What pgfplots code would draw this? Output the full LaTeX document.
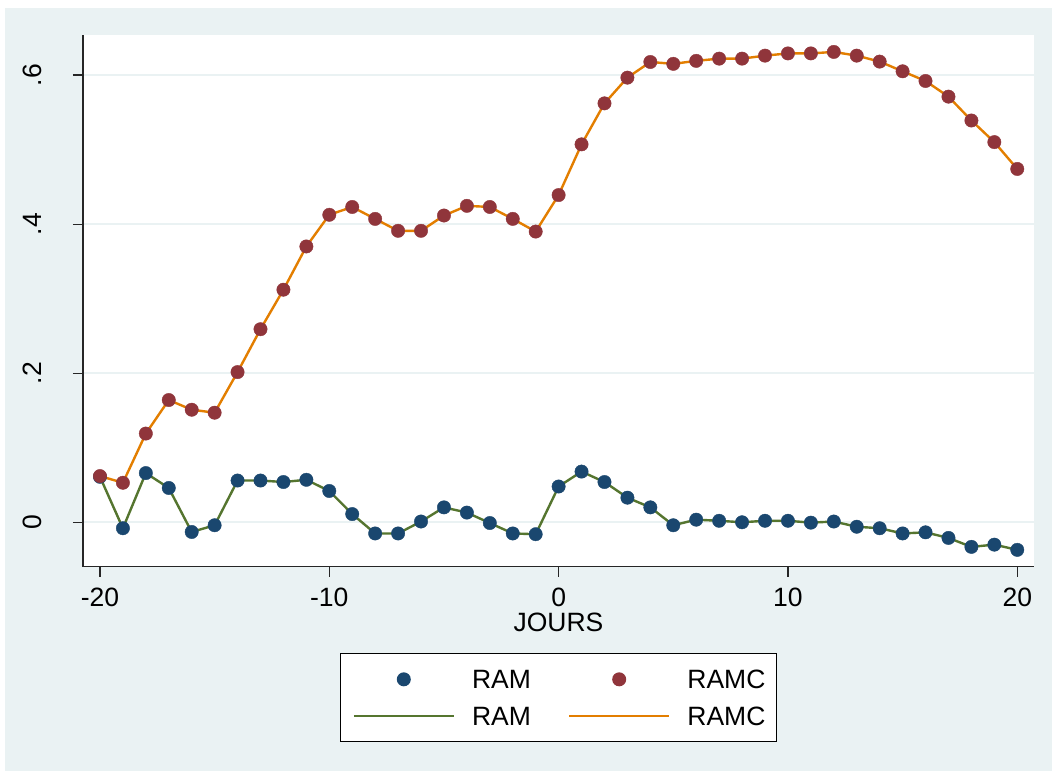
\documentclass[border=0pt]{standalone}
\usepackage{pgfplots}
\pgfplotsset{compat=1.18}
\usepackage{pgfplotstable}
\usepackage{fontspec}
\setmainfont{Liberation Sans}
\definecolor{bgc}{RGB}{234,242,243}
\definecolor{snavy}{RGB}{26,71,111}
\definecolor{smaroon}{RGB}{144,53,59}
\definecolor{sgreen}{RGB}{85,117,47}
\definecolor{sorange}{RGB}{227,126,0}

\pgfplotstableread{
x ram ramc
-20 0.061 0.062
-19 -0.008 0.053
-18 0.066 0.119
-17 0.046 0.164
-16 -0.013 0.151
-15 -0.004 0.147
-14 0.056 0.2015
-13 0.056 0.259
-12 0.054 0.312
-11 0.057 0.370
-10 0.042 0.4125
-9 0.011 0.423
-8 -0.015 0.407
-7 -0.015 0.391
-6 0.001 0.391
-5 0.020 0.4115
-4 0.013 0.4245
-3 -0.001 0.423
-2 -0.015 0.407
-1 -0.016 0.390
0 0.048 0.439
1 0.068 0.507
2 0.054 0.562
3 0.033 0.5965
4 0.020 0.6175
5 -0.004 0.615
6 0.0035 0.619
7 0.002 0.622
8 0.000 0.622
9 0.002 0.626
10 0.002 0.629
11 -0.0005 0.629
12 0.001 0.631
13 -0.006 0.626
14 -0.008 0.618
15 -0.015 0.605
16 -0.0135 0.592
17 -0.021 0.571
18 -0.033 0.539
19 -0.030 0.510
20 -0.037 0.474
}\datatable

\begin{document}
\begin{tikzpicture}[font=\fontsize{26.5bp}{31bp}\selectfont]
\useasboundingbox (-83bp,-204.3bp) rectangle (969bp,566.7bp);
\fill[white] (-83bp,-204.3bp) rectangle (969bp,566.7bp);
\fill[bgc] (-78bp,-204.3bp) rectangle (969bp,558.7bp);
\fill[white] (0bp,0bp) rectangle (951bp,531.7bp);
\begin{axis}[
  at={(0bp,0bp)}, anchor=south west,
  scale only axis,
  width=951bp, height=531.7bp,
  xmin=-20.74, xmax=20.73,
  ymin=-0.0596, ymax=0.6537,
  axis lines*=left,
  axis line style={black!85, line width=1.2bp},
  tick align=outside,
  major tick length=10bp,
  tick style={black!85, line width=1.2bp},
  xtick={-20,-10,0,10,20},
  xticklabels={-20,-10,0,10,20},
  ytick={0,0.2,0.4,0.6},
  yticklabels={0,.2,.4,.6},
  xticklabel style={anchor=north, inner sep=0pt},
  xticklabel shift=11bp,
  yticklabel style={rotate=90, anchor=south, inner sep=0pt},
  yticklabel shift=31bp,
  ymajorgrids,
  grid style={bgc, line width=2bp},
  xlabel={JOURS},
  xlabel style={at={(axis description cs:0.5,-0.087)}, anchor=north, inner sep=0pt},
  legend columns=2,
  legend style={
    at={(axis description cs:0.5,-0.1629)}, anchor=north,
    draw=black, line width=1bp, fill=white,
    inner xsep=12bp, inner ysep=16bp,
    row sep=17.7bp,
    cells={anchor=west},
    nodes={inner sep=0pt, text height=19bp, text depth=0bp},
    /tikz/every odd column/.append style={column sep=17bp},
    /tikz/every even column/.append style={column sep=19bp},
  },
]
\addplot[only marks, mark=*, mark size=6.7bp, snavy, mark options={draw=none, fill=snavy},
  legend image code/.code={\path[draw=none] (0bp,0bp) rectangle (100bp,0.1bp); \fill[snavy, draw=none] (50bp,0bp) circle (7bp);}]
  table[x=x, y=ram] {\datatable};
\addlegendentry{\makebox[77bp][l]{RAM}}
\addplot[only marks, mark=*, mark size=6.7bp, smaroon, mark options={draw=none, fill=smaroon},
  legend image code/.code={\path[draw=none] (0bp,0bp) rectangle (100bp,0.1bp); \fill[smaroon, draw=none] (50bp,0bp) circle (7bp);}]
  table[x=x, y=ramc] {\datatable};
\addlegendentry{\makebox[77bp][l]{RAMC}}
\addplot[no marks, sgreen, line width=2.4bp,
  legend image code/.code={\draw[sgreen, line width=2.4bp] (0bp,0bp) -- (100bp,0bp);}]
  table[x=x, y=ram] {\datatable};
\addlegendentry{\makebox[77bp][l]{RAM}}
\addplot[no marks, sorange, line width=2.4bp,
  legend image code/.code={\draw[sorange, line width=2.4bp] (0bp,0bp) -- (100bp,0bp);}]
  table[x=x, y=ramc] {\datatable};
\addlegendentry{\makebox[77bp][l]{RAMC}}
\end{axis}
\end{tikzpicture}
\end{document}
